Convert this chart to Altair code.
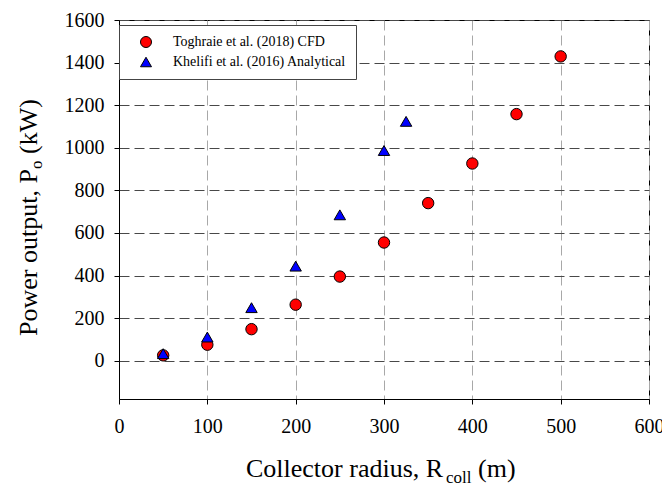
import altair as alt
import pandas as pd

# ---- data ----
series_names = ["Toghraie et al. (2018) CFD", "Khelifi et al. (2016) Analytical"]
tog_x = [50, 100, 150, 200, 250, 300, 350, 400, 450, 500]
tog_y = [25, 75, 148, 263, 395, 555, 740, 926, 1158, 1429]
khe_x = [50, 100, 150, 200, 250, 300, 325]
khe_y = [33, 111, 249, 444, 685, 987, 1124]
x_ticks = [0, 100, 200, 300, 400, 500, 600]
y_ticks = [0, 200, 400, 600, 800, 1000, 1200, 1400, 1600]
x_title_parts = ["Collector radius, R", "coll", "(m)"]
y_title_parts = ["Power output, P", "o", "(kW)"]

FONT = "Liberation Serif"

df = pd.DataFrame({
    "x": tog_x + khe_x,
    "y": tog_y + khe_y,
    "series": [series_names[0]] * len(tog_x) + [series_names[1]] * len(khe_x),
})

legend = alt.Legend(
    title=None, orient="none", legendX=0, legendY=5,
    padding=10, fillColor="white", strokeColor="#444", cornerRadius=0,
    labelFont=FONT, labelFontSize=14, labelColor="black", labelOffset=20,
    symbolOffset=10, symbolSize=121, symbolStrokeColor="black",
    symbolStrokeWidth=1, rowPadding=5, labelLimit=400,
)

points = alt.Chart(df).mark_point(
    filled=True, size=130, stroke="black", strokeWidth=1, opacity=1
).encode(
    x=alt.X("x:Q",
            scale=alt.Scale(domain=[0, 600], nice=False, zero=False),
            axis=alt.Axis(values=x_ticks, title=None, grid=True, format="d",
                          gridColor="#a8a8a8", gridDash=[10, 5], gridWidth=1,
                          tickSize=5, tickColor="black", domainColor="black",
                          labelFont=FONT, labelFontSize=20, labelColor="black",
                          labelPadding=12, labelFlush=False)),
    y=alt.Y("y:Q",
            scale=alt.Scale(domain=[-180, 1600], nice=False, zero=False),
            axis=alt.Axis(values=y_ticks, title=None, grid=True, format="d",
                          gridColor="#484848", gridDash=[10, 5], gridWidth=1,
                          tickSize=5, tickColor="black", domainColor="black",
                          labelFont=FONT, labelFontSize=20, labelColor="black",
                          labelPadding=10, labelFlush=False)),
    color=alt.Color("series:N",
                    scale=alt.Scale(domain=series_names, range=["#ff0000", "#0000ff"]),
                    legend=legend),
    shape=alt.Shape("series:N",
                    scale=alt.Scale(domain=series_names, range=["circle", "triangle-up"]),
                    legend=legend),
)

def piece(text, x, y, size, angle=0):
    return alt.Chart(pd.DataFrame({"t": [text]})).mark_text(
        font=FONT, fontSize=size, color="black", align="left",
        baseline="alphabetic", angle=angle
    ).encode(text="t:N", x=alt.value(x), y=alt.value(y))

titles = [
    piece(x_title_parts[0], 127, 456.7, 26),
    piece(x_title_parts[1], 327, 462.5, 17),
    piece(x_title_parts[2], 359, 456.7, 26),
    piece(y_title_parts[0], -82, 316, 26, 270),
    piece(y_title_parts[1], -77, 149, 17, 270),
    piece(y_title_parts[2], -82, 134, 26, 270),
]

chart = alt.layer(points, *titles).properties(
    width=530, height=379,
    autosize=alt.AutoSizeParams(type="none"),
    padding={"left": 119, "top": 20, "right": 13, "bottom": 85},
).configure(
    background="white", font=FONT
).configure_view(
    stroke="black", strokeWidth=1
)

chart.save("out.html", embed_options={"renderer": "svg", "actions": False})
